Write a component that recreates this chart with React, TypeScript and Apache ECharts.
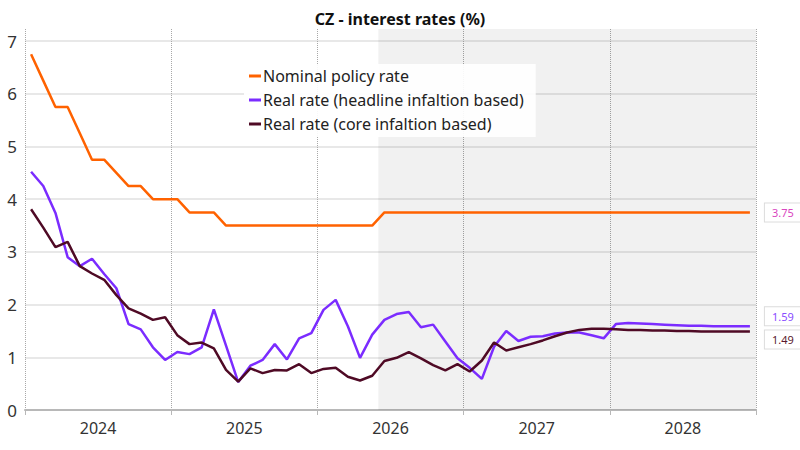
import React, { useEffect, useRef } from "react";
import * as echarts from "echarts";

const years = ["2024", "2025", "2026", "2027", "2028"];
const monthNames = ["Jan", "Feb", "Mar", "Apr", "May", "Jun", "Jul", "Aug", "Sep", "Oct", "Nov", "Dec"];
const months = years.flatMap((y) => monthNames.map((m) => `${m} ${y}`));
const forecastStart = "Jun 2026";

const nominalRate = [
  6.75, 6.25, 5.75, 5.75, 5.25, 4.75, 4.75, 4.5, 4.25, 4.25, 4.0, 4.0,
  4.0, 3.75, 3.75, 3.75, 3.5, 3.5, 3.5, 3.5, 3.5, 3.5, 3.5, 3.5,
  3.5, 3.5, 3.5, 3.5, 3.5, 3.75, 3.75, 3.75, 3.75, 3.75, 3.75, 3.75,
  3.75, 3.75, 3.75, 3.75, 3.75, 3.75, 3.75, 3.75, 3.75, 3.75, 3.75, 3.75,
  3.75, 3.75, 3.75, 3.75, 3.75, 3.75, 3.75, 3.75, 3.75, 3.75, 3.75, 3.75,
];

const realHeadline = [
  4.52, 4.25, 3.74, 2.9, 2.73, 2.87, 2.58, 2.31, 1.63, 1.53, 1.19, 0.95,
  1.1, 1.06, 1.19, 1.91, 1.22, 0.53, 0.84, 0.95, 1.25, 0.96, 1.36, 1.46,
  1.9, 2.09, 1.59, 0.99, 1.43, 1.71, 1.82, 1.86, 1.57, 1.62, 1.3, 0.98,
  0.8, 0.59, 1.2, 1.5, 1.31, 1.39, 1.4, 1.45, 1.47, 1.47, 1.42, 1.36,
  1.63, 1.65, 1.64, 1.63, 1.62, 1.61, 1.6, 1.6, 1.59, 1.59, 1.59, 1.59,
];

const realCore = [
  3.81, 3.46, 3.09, 3.19, 2.73, 2.59, 2.47, 2.18, 1.93, 1.83, 1.71, 1.76,
  1.42, 1.25, 1.28, 1.17, 0.76, 0.54, 0.79, 0.7, 0.76, 0.75, 0.87, 0.7,
  0.78, 0.8, 0.63, 0.56, 0.65, 0.93, 0.99, 1.1, 0.98, 0.85, 0.75, 0.87,
  0.73, 0.94, 1.28, 1.13, 1.19, 1.25, 1.32, 1.4, 1.47, 1.52, 1.54, 1.54,
  1.53, 1.52, 1.52, 1.51, 1.51, 1.5, 1.5, 1.49, 1.49, 1.49, 1.49, 1.49,
];

const seriesNames = [
  "Nominal policy rate",
  "Real rate (headline infaltion based)",
  "Real rate (core infaltion based)",
];
const colors = ["#ff6200", "#7b2cff", "#4f0a25"];
const labelColors = ["#d946c0", "#8a4dff", "#5a1a2e"];
const endLabelShift = [0, -10, 8];

const FONT = "'Noto Sans', Lato, sans-serif";

export default function App() {
  const ref = useRef<HTMLDivElement>(null);

  useEffect(() => {
    if (!ref.current) return;
    const chart = echarts.init(ref.current, undefined, { renderer: "svg" });
    const datasets = [nominalRate, realHeadline, realCore];
    const fIdx = months.indexOf(forecastStart);

    const series: any[] = datasets.map((arr, k) => ({
      name: seriesNames[k],
      type: "line",
      xAxisIndex: 0,
      yAxisIndex: 0,
      data: arr.map((v, i) => [i, v]),
      showSymbol: false,
      symbol: "none",
      lineStyle: { width: 2.5, color: colors[k] },
      itemStyle: { color: colors[k] },
      z: k === 0 ? 3 : k === 1 ? 4 : 5,
      endLabel: {
        show: true,
        formatter: (p: any) => Number(p.value[1]).toFixed(2),
        color: labelColors[k],
        fontSize: 11,
        fontFamily: FONT,
        backgroundColor: "#fff",
        borderColor: "#dcdcdc",
        borderWidth: 1,
        padding: [4, 7, 3, 7],
        distance: 15,
        offset: [0, endLabelShift[k]],
      },
      markArea:
        k === 0
          ? {
              silent: true,
              itemStyle: { color: "rgba(0,0,0,0.055)" },
              data: [[{ xAxis: fIdx - 0.5 }, { xAxis: months.length - 0.5 }]],
            }
          : undefined,
    }));

    chart.setOption({
      animation: false,
      color: colors,
      textStyle: { fontFamily: FONT },
      title: {
        text: "CZ - interest rates (%)",
        left: "center",
        top: 6,
        textStyle: { fontSize: 16, fontWeight: "bold", color: "#111", fontFamily: FONT },
      },
      legend: {
        orient: "vertical",
        left: 244,
        top: 64,
        backgroundColor: "rgba(255,255,255,0.92)",
        padding: [2, 12, 3, 5],
        itemGap: 4,
        itemWidth: 12,
        itemHeight: 3,
        icon: "rect",
        data: seriesNames,
        textStyle: { fontSize: 16, color: "#222", lineHeight: 20, fontFamily: FONT, padding: [0, 0, 0, -3] },
      },
      grid: { left: 25, right: 44, top: 29, bottom: 40, containLabel: false },
      xAxis: [
        {
          type: "value",
          min: -0.5,
          max: months.length - 0.5,
          show: false,
        },
        {
          type: "category",
          data: years,
          boundaryGap: true,
          position: "bottom",
          axisLine: { show: true, lineStyle: { color: "#b8b8b8", width: 2 } },
          axisTick: { show: true, length: 5, lineStyle: { color: "#b8b8b8" } },
          axisLabel: { fontSize: 16, color: "#333", margin: 10, fontFamily: FONT },
          splitLine: { show: true, lineStyle: { type: "dotted", color: "#a8a8a8", width: 1 } },
        },
      ],
      yAxis: {
        type: "value",
        min: 0,
        max: 7.23,
        interval: 1,
        axisLine: { show: false },
        axisTick: { show: false },
        axisLabel: { fontSize: 17, color: "#333", margin: 8, showMaxLabel: false, fontFamily: FONT },
        splitLine: { show: true, showMaxLine: false, lineStyle: { color: "#e0e0e0", width: 1.5 } },
      },
      series,
    });

    return () => chart.dispose();
  }, []);

  return <div ref={ref} style={{ width: 800, height: 450, position: "absolute", left: 0, top: 0 }} />;
}
